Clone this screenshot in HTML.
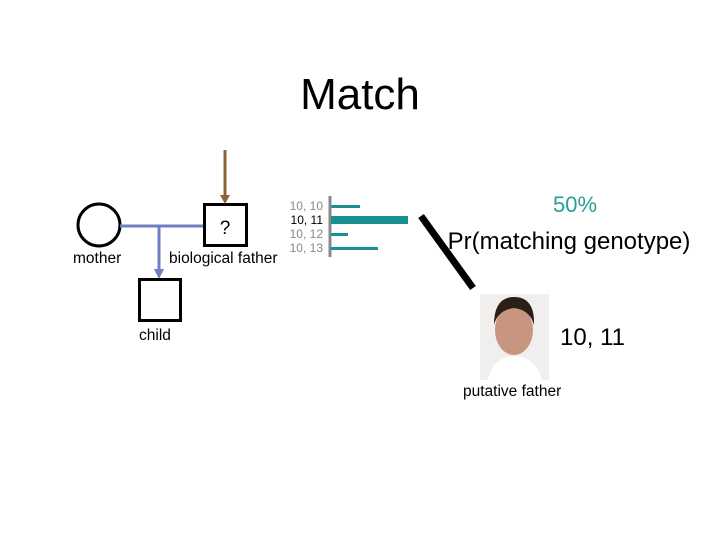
<!DOCTYPE html>
<html><head><style>
body{margin:0;background:#fff;}
svg{display:block;font-family:"Liberation Sans",sans-serif;}
</style></head><body>
<svg width="720" height="540" viewBox="0 0 720 540">
<text x="360" y="109" font-size="44" text-anchor="middle">Match</text>
<circle cx="99" cy="225" r="21" fill="none" stroke="#000" stroke-width="3"/>
<line x1="120" y1="226" x2="204" y2="226" stroke="#6f7fc0" stroke-width="3"/>
<line x1="159" y1="226" x2="159" y2="270" stroke="#6f7fc0" stroke-width="3"/>
<polygon points="154,269 164,269 159,279" fill="#6f7fc0"/>
<rect x="204.5" y="204.5" width="42" height="41" fill="none" stroke="#000" stroke-width="3"/>
<text x="225" y="234" font-size="19" text-anchor="middle">?</text>
<line x1="225" y1="150" x2="225" y2="196" stroke="#8b6437" stroke-width="3"/>
<polygon points="220,195 230,195 225,204" fill="#8b6437"/>
<rect x="139.5" y="279.5" width="41" height="41" fill="none" stroke="#000" stroke-width="3"/>
<text x="73" y="263" font-size="15.5">mother</text>
<text x="169" y="263" font-size="15.5">biological father</text>
<text x="139" y="340" font-size="15.5">child</text>
<g font-size="12" text-anchor="end">
<text x="323" y="210" fill="#888">10, 10</text>
<text x="323" y="224" fill="#000">10, 11</text>
<text x="323" y="238" fill="#888">10, 12</text>
<text x="323" y="252" fill="#888">10, 13</text>
</g>
<line x1="330" y1="196" x2="330" y2="257" stroke="#888" stroke-width="3"/>
<g fill="#1a9090">
<rect x="331" y="205" width="29" height="3"/>
<rect x="331" y="216" width="77" height="8"/>
<rect x="331" y="233" width="17" height="3"/>
<rect x="331" y="247" width="47" height="3"/>
</g>
<line x1="421" y1="216" x2="473" y2="288" stroke="#000" stroke-width="7"/>
<text x="575" y="212" font-size="22" fill="#2a9d9a" text-anchor="middle">50%</text>
<text x="569" y="249" font-size="24" text-anchor="middle">Pr(matching genotype)</text>
<rect x="480" y="294" width="69" height="86" fill="#f1efee"/>
<ellipse cx="514" cy="330" rx="19" ry="25" fill="#c79580"/>
<path d="M494,325 Q494,297 514,297 Q535,297 534,325 Q530,310 514,308 Q498,310 494,325Z" fill="#2b2019"/>
<path d="M488,380 Q492,358 514,356 Q537,358 542,380Z" fill="#fff"/>
<text x="560" y="345" font-size="24">10, 11</text>
<text x="463" y="396" font-size="15.5">putative father</text>
</svg>
</body></html>
